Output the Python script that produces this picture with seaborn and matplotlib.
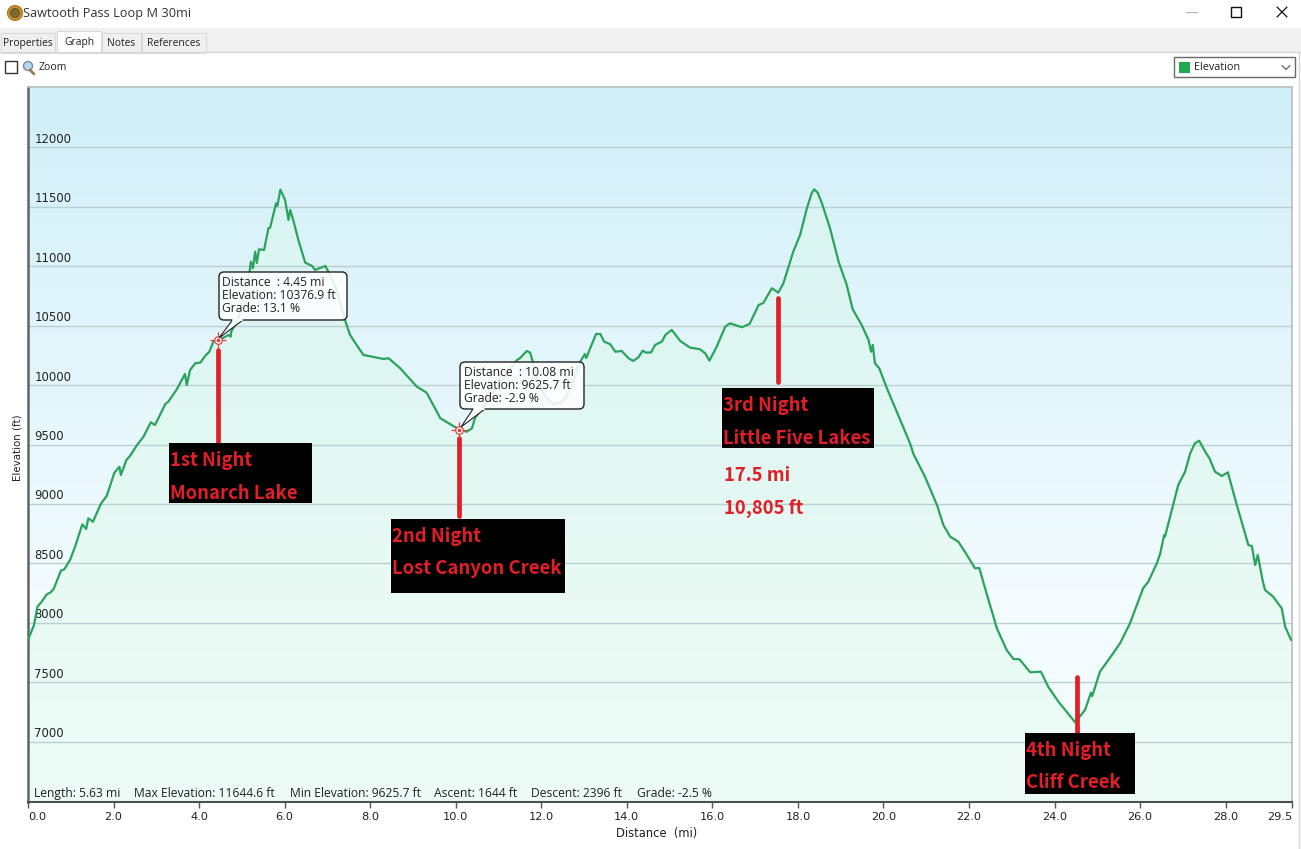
import numpy as np
import pandas as pd
import seaborn as sns
import matplotlib
matplotlib.use("Agg")
import matplotlib.pyplot as plt
from matplotlib.patches import Rectangle, FancyBboxPatch, Polygon, Circle
from matplotlib.transforms import ScaledTranslation

# ---------- data ----------
distance_mi = [
    0.0, 0.14, 0.22, 0.32, 0.44, 0.52, 0.60, 0.77, 0.85, 0.99, 1.10, 1.27, 1.36, 1.41, 1.52, 1.69, 1.74, 1.84,
    2.02, 2.14, 2.17, 2.30, 2.39, 2.55, 2.70, 2.87, 2.97, 3.21, 3.28, 3.48, 3.67, 3.71, 3.79, 3.91, 4.03, 4.14,
    4.24, 4.34, 4.45, 4.69, 4.74, 4.75, 4.91, 5.18, 5.21, 5.26, 5.31, 5.35, 5.40, 5.52, 5.62, 5.66, 5.80, 5.83,
    5.90, 6.01, 6.09, 6.13, 6.21, 6.32, 6.48, 6.64, 6.71, 6.95, 7.02, 7.22, 7.41, 7.53, 7.63, 7.84, 8.31, 8.43,
    8.70, 9.09, 9.32, 9.64, 10.08, 10.26, 10.38, 10.45, 11.04, 11.43, 11.50, 11.66, 11.74, 11.80, 11.93, 12.09,
    12.28, 12.48, 12.67, 12.87, 12.91, 13.02, 13.05, 13.28, 13.38, 13.47, 13.61, 13.73, 13.88, 14.04, 14.15,
    14.27, 14.37, 14.45, 14.57, 14.66, 14.82, 14.90, 15.05, 15.25, 15.48, 15.71, 15.83, 15.93, 16.10, 16.30,
    16.41, 16.69, 16.87, 17.08, 17.19, 17.39, 17.54, 17.66, 17.89, 18.05, 18.21, 18.32, 18.38, 18.46, 18.56,
    18.75, 18.95, 19.14, 19.28, 19.49, 19.65, 19.71, 19.75, 19.80, 19.90, 20.08, 20.62, 20.70, 20.97, 21.25,
    21.40, 21.56, 21.75, 21.95, 22.14, 22.24, 22.33, 22.65, 22.88, 23.04, 23.18, 23.43, 23.68, 23.85, 24.09,
    24.28, 24.48, 24.71, 24.85, 24.88, 25.06, 25.34, 25.53, 25.76, 26.07, 26.19, 26.39, 26.47, 26.56, 26.58,
    26.78, 26.89, 27.05, 27.17, 27.28, 27.38, 27.52, 27.62, 27.75, 27.91, 28.05, 28.26, 28.53, 28.61, 28.69,
    28.75, 28.87, 28.92, 29.11, 29.31, 29.39, 29.53]
elevation_ft = [
    7854, 7981, 8135, 8177, 8239, 8253, 8284, 8438, 8450, 8534, 8640, 8828, 8789, 8879, 8850, 8991, 9019, 9067,
    9263, 9313, 9243, 9370, 9406, 9496, 9566, 9687, 9664, 9841, 9860, 9965, 10094, 10001, 10127, 10184, 10189, 10245,
    10281, 10371, 10377, 10422, 10408, 10450, 10548, 10955, 11039, 10983, 11123, 11028, 11143, 11137, 11320, 11325, 11531, 11508,
    11645, 11558, 11390, 11474, 11376, 11222, 11031, 11003, 10969, 11003, 10955, 10801, 10548, 10422, 10366, 10254, 10220, 10226,
    10142, 9987, 9936, 9721, 9626, 9608, 9637, 9723, 10018, 10211, 10226, 10287, 10273, 10197, 10018, 9903,
    9841, 9852, 9959, 10155, 10197, 10262, 10228, 10430, 10430, 10366, 10344, 10281, 10287, 10226, 10203,
    10234, 10290, 10273, 10276, 10338, 10366, 10422, 10464, 10371, 10315, 10302, 10268, 10206, 10323, 10492,
    10520, 10487, 10515, 10674, 10691, 10815, 10778, 10857, 11123, 11264, 11489, 11615, 11648, 11620, 11531,
    11320, 11039, 10843, 10638, 10506, 10380, 10281, 10338, 10184, 10142, 9973, 9510, 9420, 9229, 8991,
    8822, 8724, 8682, 8570, 8458, 8461, 8345, 7953, 7770, 7694, 7692, 7583, 7588, 7461, 7335,
    7251, 7162, 7265, 7411, 7383, 7588, 7728, 7827, 7993, 8290, 8345, 8500, 8584, 8738, 8724,
    9005, 9159, 9271, 9426, 9510, 9532, 9440, 9384, 9271, 9235, 9266, 8991, 8654, 8646, 8486,
    8570, 8345, 8275, 8219, 8121, 7966, 7854]

x_ticks = [0, 2, 4, 6, 8, 10, 12, 14, 16, 18, 20, 22, 24, 26, 28, 29.55]
x_tick_labels = ["0.0", "2.0", "4.0", "6.0", "8.0", "10.0", "12.0", "14.0", "16.0", "18.0", "20.0",
                 "22.0", "24.0", "26.0", "28.0", "29.5"]
y_ticks = [7000, 7500, 8000, 8500, 9000, 9500, 10000, 10500, 11000, 11500, 12000]

night_x = [4.45, 10.08, 17.54, 24.53]
night_top = [10296, 9555, 10733, 7543]
night_bottom = [9514, 8898, 10026, 7072]
night_labels = [("1st Night", "Monarch Lake"), ("2nd Night", "Lost Canyon Creek"),
                ("3rd Night", "Little Five Lakes"), ("4th Night", "Cliff Creek")]
cursor_x = [4.45, 10.08]
cursor_y = [10376.9, 9625.7]
cursor_texts = [("Distance  : 4.45 mi", "Elevation: 10376.9 ft", "Grade: 13.1 %"),
                ("Distance  : 10.08 mi", "Elevation: 9625.7 ft", "Grade: -2.9 %")]
stats = ["Length: 5.63 mi", "Max Elevation: 11644.6 ft", "Min Elevation: 9625.7 ft",
         "Ascent: 1644 ft", "Descent: 2396 ft", "Grade: -2.5 %"]
tabs = ["Properties", "Graph", "Notes", "References"]

# ---------- style ----------
W, H = 1301, 849
sns.set_theme(style="white")
plt.rcParams["font.family"] = ["DejaVu Sans"]
UI = "Open Sans"
RED = "#E01F28"
LINE = "#2BA35C"
GRID = "#BCCFD2"

fig = plt.figure(figsize=(W / 100, H / 100), dpi=100, facecolor="white")
ax = fig.add_axes([28 / W, (H - 802) / H, (1292 - 28) / W, (802 - 87) / H])
ax.set_axisbelow(False)
XMAX, YMIN, YMAX = 29.55, 6491, 12509


def gradient(stops):
    pos = np.linspace(0, 1, 256)
    ps = [s[0] for s in stops]
    return np.stack([np.interp(pos, ps, [s[1][i] / 255 for s in stops]) for i in range(3)], axis=1)[:, None, :]


bg = gradient([(0, (209, 239, 249)), (0.45, (230, 247, 252)), (0.72, (243, 252, 255)), (1, (241, 253, 252))])
ax.imshow(bg, extent=[0, XMAX, YMIN, YMAX], aspect="auto", origin="upper", zorder=0)

df = pd.DataFrame({"distance": distance_mi, "elevation": elevation_ft})
poly = ax.fill_between(df["distance"], df["elevation"], YMIN, color="none", lw=0, zorder=1)
fg = gradient([(0, (214, 243, 242)), (0.45, (224, 247, 242)), (0.72, (233, 250, 244)), (1, (237, 252, 246))])
im = ax.imshow(fg, extent=[0, XMAX, YMIN, YMAX], aspect="auto", origin="upper", zorder=1)
im.set_clip_path(poly.get_paths()[0], transform=ax.transData)

for v in y_ticks:
    ax.axhline(v, color=GRID, lw=1.0, zorder=2)

sns.lineplot(data=df, x="distance", y="elevation", ax=ax, color=LINE, lw=1.6, sort=False,
             estimator=None, errorbar=None, zorder=3)
ax.vlines(night_x, night_bottom, night_top, color=RED, lw=3.4, zorder=6, capstyle="round")

ax.set_xlim(0, XMAX)
ax.set_ylim(YMIN, YMAX)
ax.set_xlabel("")
ax.set_ylabel("")
ax.set_xticks(x_ticks)
ax.set_xticklabels(x_tick_labels, fontsize=8.2, color="#222222", fontfamily="DejaVu Sans")
ax.set_yticks(y_ticks)
ax.set_yticklabels([str(v) for v in y_ticks], fontsize=8.4, color="#222222", ha="left", va="bottom")
ax.tick_params(axis="x", length=4, width=1, color="#555555", pad=3, bottom=True)
ax.tick_params(axis="y", length=0, pad=-4.5)
for lab in ax.get_yticklabels():
    lab.set_transform(lab.get_transform() + ScaledTranslation(0, 1.5 / 100, fig.dpi_scale_trans))
xl = ax.get_xticklabels()
xl[0].set_ha("left")
xl[-1].set_ha("right")
for side, col, lw in [("left", "#5F6568", 1.8), ("bottom", "#4A4F52", 1.5), ("top", "#B8BDBF", 1.2), ("right", "#B8BDBF", 1.2)]:
    ax.spines[side].set_color(col)
    ax.spines[side].set_linewidth(lw)
    ax.spines[side].set_visible(True)

# ---------- overlay in pixel coordinates ----------
ov = fig.add_axes([0, 0, 1, 1], facecolor="none", zorder=5)
ov.set_xlim(0, W)
ov.set_ylim(H, 0)
ov.axis("off")


def rect(x0, y0, x1, y1, **kw):
    kw.setdefault("lw", 0)
    ov.add_patch(Rectangle((x0, y0), x1 - x0, y1 - y0, **kw))


def txt(x, y, s, size=8, color="#222222", family=UI, **kw):
    kw.setdefault("va", "center")
    kw.setdefault("ha", "left")
    ov.text(x, y, s, fontsize=size, color=color, fontfamily=family, **kw)


# window chrome
rect(0, 28, W, 52, facecolor="#F0F0F0")
ov.plot([0, W], [52, 52], color="#D9D9D9", lw=1)
ov.add_patch(Circle((15, 13), 7.5, facecolor="#C8902E", edgecolor="#A87820", lw=0.8))
ov.add_patch(Circle((15, 13), 4.5, facecolor="#7A6A2E", edgecolor="#5A4E20", lw=0.6))
txt(23, 13.5, "Sawtooth Pass Loop M 30mi", size=9.15, color="#333333")
ov.plot([1186, 1197], [12, 12], color="#B5B5B5", lw=0.9)
rect(1231, 7, 1241, 17, facecolor="none", edgecolor="#111111", lw=1)
ov.plot([1277, 1287], [7, 17], color="#111111", lw=0.9)
ov.plot([1277, 1287], [17, 7], color="#111111", lw=0.9)
tab_boxes = [(1, 33, 55), (57, 31, 101), (102, 33, 141), (142, 33, 206)]
for (x0, y0, x1), name in zip(tab_boxes, tabs):
    active = name == "Graph"
    rect(x0, y0, x1, 52.5, facecolor="white" if active else "#F0F0F0", edgecolor="#D9D9D9", lw=0.8)
    txt((x0 + x1) / 2, (y0 + 52) / 2 + 0.5, name, size=7.4, color="#222222", ha="center")
ov.plot([1299, 1299], [52, H], color="#D5D5D5", lw=1)
rect(5, 61, 17, 73, facecolor="white", edgecolor="#333333", lw=1)
ov.plot([30, 34], [70, 74], color="#9A7A50", lw=2)
ov.add_patch(Circle((28, 66), 4.5, facecolor="#B8D8F0", edgecolor="#7A8A9A", lw=1))
txt(39, 67.5, "Zoom", size=7.6)
rect(1174, 57, 1295, 77, facecolor="white", edgecolor="#6A6A6A", lw=1)
rect(1179, 62, 1190, 73, facecolor="#1FAA4F")
txt(1194, 67.5, "Elevation", size=7.8)
ov.plot([1282, 1286, 1290], [65.5, 69.5, 65.5], color="#555555", lw=0.8)

# axis captions and stats
txt(17, 448, "Elevation (ft)", size=7.4, rotation=90, ha="center", family="DejaVu Sans")
txt(656.5, 834, "Distance  (mi)", size=8.3, ha="center", family="DejaVu Sans")
for x, s in zip([34, 134.5, 289.5, 434, 531, 637], stats):
    txt(x, 793.5, s, size=8.7, color="#222222")

# night labels
KR = "Noto Sans CJK KR"
boxes = [(169, 443, 312, 503), (391, 519, 565, 593), (722, 388, 874, 448), (1025, 733, 1135, 794)]
label_y = [460, 536, 405, 750]
for (x0, y0, x1, y1), (a, b), ly in zip(boxes, night_labels, label_y):
    rect(x0, y0, x1, y1, facecolor="black", zorder=3)
    txt(x0 + 1, ly, a, size=13.3, color=RED, family=KR, weight="bold", zorder=4)
    txt(x0 + 1, ly + 33, b, size=13.3, color=RED, family=KR, weight="bold", zorder=4)
txt(724, 475, "17.5 mi", size=13.3, color=RED, family=KR, weight="bold")
txt(724, 508, "10,805 ft", size=13.3, color=RED, family=KR, weight="bold")

# cursor callouts
callouts = [(219, 272, 347, 320, 232.5, 243, 219, 338), (460, 362, 584, 409, 473, 485, 461, 427)]
for (x0, y0, x1, y1, t0, t1, tx, ty), lines in zip(callouts, cursor_texts):
    ov.add_patch(FancyBboxPatch((x0 + 4, y0 + 4), x1 - x0 - 8, y1 - y0 - 8, boxstyle="round,pad=4,rounding_size=5",
                                facecolor=(1, 1, 1, 0.88), edgecolor="#222222", lw=1, zorder=2))
    ov.add_patch(Polygon([(t0, y1), (tx, ty), (t1, y1)], closed=False, facecolor=(1, 1, 1, 0.85),
                         edgecolor="#222222", lw=0.8, zorder=2))
    ov.plot([t0 + 0.7, t1 - 0.7], [y1, y1], color="white", lw=1.4, zorder=2.5)
    for i, s in enumerate(lines):
        txt(x0 + 3.5, y0 + 10.5 + 13 * i, s, size=8.7, color="#222222", zorder=4)

# cursor markers on the elevation scale
ax.plot(cursor_x, cursor_y, ls="none", marker="+", ms=11, mew=0.9, color="#E04040", zorder=7)
ax.plot(cursor_x, cursor_y, ls="none", marker="o", ms=5.5, mfc="white", mec="#E04040", mew=0.9, zorder=7)
ax.plot(cursor_x, cursor_y, ls="none", marker="o", ms=1.6, color="#E04040", zorder=7)

fig.savefig("out.png", dpi=100, facecolor="white")
